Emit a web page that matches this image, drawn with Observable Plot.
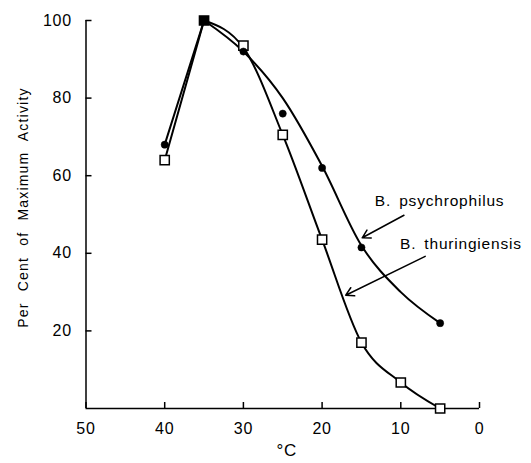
<!DOCTYPE html>
<html>
<head>
<meta charset="utf-8">
<script src="https://cdn.jsdelivr.net/npm/d3@7"></script>
<script src="https://cdn.jsdelivr.net/npm/@observablehq/plot@0.6"></script>
<style>
  html, body { margin: 0; padding: 0; background: #fff; }
  svg { font-family: "Liberation Sans", Arial, sans-serif; }
  svg text { letter-spacing: 0.8px; word-spacing: 3px; }
</style>
</head>
<body>
<div id="chart"></div>
<script>
// Measured points
const psyTemps = [40, 35, 30, 25, 20, 15, 5];
const psyValues = [68, 100, 92, 76, 62, 41.5, 22];
const thuTemps = [40, 35, 30, 25, 20, 15, 10, 5];
const thuValues = [64, 100, 93.5, 70.5, 43.5, 17, 6.7, 0];
// Hand-drawn smooth curves
const psyCurveTemps = [35, 30, 25, 20, 15, 10, 5];
const psyCurveValues = [100, 92, 80, 62.5, 42, 30, 22];
const thuCurveTemps = [35, 30, 25, 20, 15, 10, 5];
const thuCurveValues = [100, 93, 70.5, 43.5, 17, 6.7, 0];
// Straight rise segments
const riseTemps = [40, 35];
const psyRise = [68, 100];
const thuRise = [64, 100];
// Ticks
const xTicks = [50, 40, 30, 20, 10, 0];
const yTicks = [20, 40, 60, 80, 100];
// Annotations
const yTitle = "Per Cent of Maximum Activity";
const xTitle = "°C";
const labels = ["B. psychrophilus", "B. thuringiensis"];
const labelX = [13.3, 10.1];
const labelY = [53.6, 42.4];
const arrowX1 = [9.6, 6.9];
const arrowY1 = [49.8, 39.2];
const arrowX2 = [14.9, 17.0];
const arrowY2 = [44.0, 29.2];

const zip = (xs, ys) => xs.map((x, i) => ({x, y: ys[i]}));
const psy = zip(psyTemps, psyValues);
const thu = zip(thuTemps, thuValues);
const psyCurve = zip(psyCurveTemps, psyCurveValues);
const thuCurve = zip(thuCurveTemps, thuCurveValues);
const psyR = zip(riseTemps, psyRise);
const thuR = zip(riseTemps, thuRise);
const ann = labels.map((t, i) => ({t, x: labelX[i], y: labelY[i]}));
const arrows = labels.map((t, i) => ({x1: arrowX1[i], y1: arrowY1[i], x2: arrowX2[i], y2: arrowY2[i]}));

const chart = Plot.plot({
  width: 531,
  height: 463,
  marginLeft: 85.5,
  marginRight: 52,
  marginTop: 20,
  marginBottom: 55,
  x: {domain: [50, 0]},
  y: {domain: [0, 100]},
  style: {fontFamily: "Liberation Sans, Arial, sans-serif", color: "black", background: "white"},
  marks: [
    Plot.ruleX([50], {y1: 0, y2: 100, stroke: "black", strokeWidth: 1.5}),
    Plot.ruleY([0], {x1: 50, x2: 0, stroke: "black", strokeWidth: 1.5}),
    Plot.axisX({ticks: xTicks, tickSize: -6, text: null, label: null, strokeWidth: 1.5}),
    Plot.axisX({ticks: xTicks, tickSize: 0, tickPadding: 14, fontSize: 16, label: null}),
    Plot.axisY({ticks: yTicks, tickSize: -6, text: null, label: null, strokeWidth: 1.5}),
    Plot.axisY({ticks: yTicks, tickSize: 0, tickPadding: 14, fontSize: 16, label: null}),
    Plot.text([yTitle], {frameAnchor: "left", textAnchor: "middle", rotate: -90, dx: -62, dy: -7, fontSize: 14}),
    Plot.text([xTitle], {frameAnchor: "bottom", dx: 4, dy: 47, fontSize: 17}),
    Plot.line(psyR, {x: "x", y: "y", stroke: "black", strokeWidth: 2}),
    Plot.line(thuR, {x: "x", y: "y", stroke: "black", strokeWidth: 2}),
    Plot.line(psyCurve, {x: "x", y: "y", curve: "monotone-x", stroke: "black", strokeWidth: 2}),
    Plot.line(thuCurve, {x: "x", y: "y", curve: "monotone-x", stroke: "black", strokeWidth: 2}),
    Plot.dot(thu, {x: "x", y: "y", symbol: "square", r: 5.2, fill: d => d.x === 35 ? "black" : "white", stroke: "black", strokeWidth: 1.5}),
    Plot.dot(psy, {x: "x", y: "y", r: 3.6, fill: "black", stroke: "black", strokeWidth: 0.5}),
    Plot.arrow(arrows, {x1: "x1", y1: "y1", x2: "x2", y2: "y2", stroke: "black", strokeWidth: 1.5, headLength: 9, bend: false}),
    Plot.text(ann, {x: "x", y: "y", text: "t", textAnchor: "start", fontSize: 15.5})
  ]
});
d3.select(chart).selectAll("text")
  .filter(function() { return this.textContent === yTitle; })
  .style("word-spacing", "6px").style("letter-spacing", "1.2px");
document.getElementById("chart").appendChild(chart);
</script>
</body>
</html>
